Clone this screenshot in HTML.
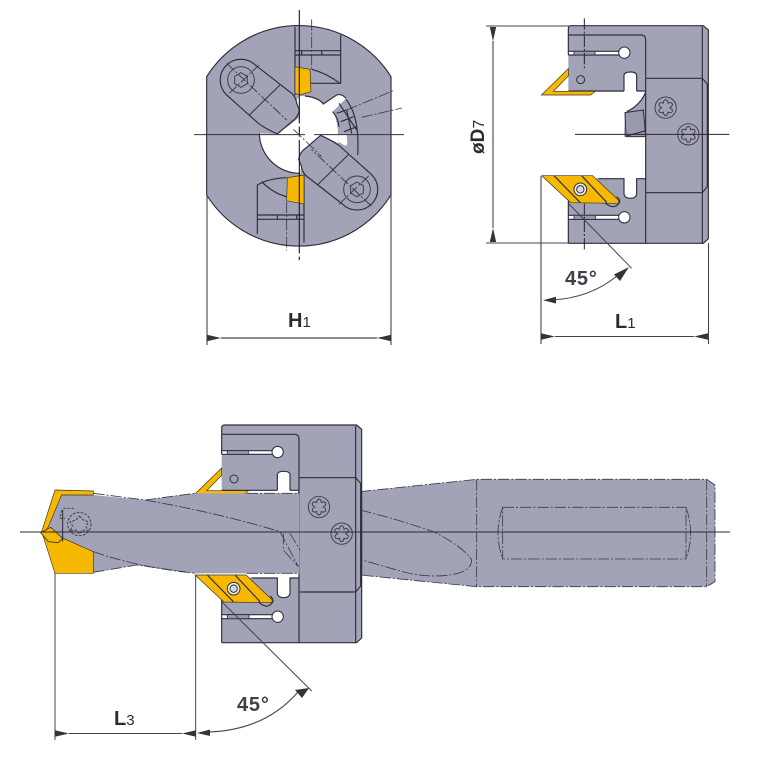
<!DOCTYPE html>
<html><head><meta charset="utf-8"><style>
html,body{margin:0;padding:0;background:#fff}
svg{display:block;filter:blur(.3px)}
text{font-family:"Liberation Sans",sans-serif;fill:#2b2b35}
.b{fill:#a3a3b7}
.l{fill:none;stroke:#2e2e3c;stroke-width:3.5;stroke-linejoin:round}
.t{fill:none;stroke:#3a3a48;stroke-width:2.8;stroke-linejoin:round}
.dd{fill:none;stroke:#3a3a48;stroke-width:2.5;stroke-dasharray:34 6 6 6}
.y{fill:#f6b800;stroke:#3a3320;stroke-width:2}
.d{fill:none;stroke:#44444c;stroke-width:1.1}
.w{fill:#fff}
</style></head><body>
<svg xmlns="http://www.w3.org/2000/svg" width="767" height="767" viewBox="0 0 767 767">
<defs>
<marker id="a" viewBox="0 0 14 8" refX="0" refY="4" markerWidth="14" markerHeight="8" markerUnits="userSpaceOnUse" orient="auto-start-reverse"><path d="M0 4L14 0.8V7.2Z" fill="#33333d"/></marker>
<g id="torx"><circle r="32" class="t"/><path d="M0 -24Q7 -22 7 -13Q14 -18 20 -12Q22 -5 12 0Q22 5 20 12Q14 18 7 13Q7 22 0 24Q-7 22 -7 13Q-14 18 -20 12Q-22 5 -12 0Q-22 -5 -20 -12Q-14 -18 -7 -13Q-7 -22 0 -24Z" class="t"/></g>
<g id="head">
 <path class="b" d="M527 47H700L715 60V686L700 700H527Z"/>
 <path class="b" d="M295 56Q295 47 304 47H528V245H295ZM295 505H528V700H295Z"/>
 <path class="b" d="M527 243Q510 285 465 308L462 380H527Z"/>
 <path class="w" d="M462 246V195Q464 186 481 186Q498 186 500 195V243H527Q515 285 465 308V246Z"/>
 <path class="w" d="M462 504V552Q464 565 481 565Q498 565 500 552V504Z"/>
 <path class="l" d="M462 243H296M500 243H527M462 243V195Q464 186 481 186Q498 186 500 195V243M385 506H462V552Q464 565 481 565Q498 565 500 552V506H527"/>
 <path d="M465 308L520 300L527 380L468 380Z" fill="#9a9aae" stroke="#2e2e3c" stroke-width="3"/>
 <path class="l" d="M527 246Q512 285 470 305M470 378L527 362"/>
 <rect x="290" y="124" width="160" height="11" class="w"/><circle cx="463" cy="128" r="17" class="w" stroke="#2e2e3c" stroke-width="3"/>
 <rect x="290" y="616" width="160" height="11" class="w"/><circle cx="463" cy="622" r="17" class="w" stroke="#2e2e3c" stroke-width="3"/>
 <path class="l" d="M295 124H447M295 135H447M295 616H447M295 628H447"/>
 <rect x="312" y="124" width="63" height="11" fill="#9a9aae" stroke="#2e2e3c" stroke-width="2.5"/>
 <rect x="312" y="616" width="65" height="12" fill="#9a9aae" stroke="#2e2e3c" stroke-width="2.5"/>
 <path class="l" d="M295 75H515Q527 76 527 90V700M527 205H697L712 222V530L697 548H527M697 50V700M295 700H700L715 686V60L700 47H304Q295 47 295 56V135M295 505V700"/>
 <circle cx="332" cy="209" r="12" fill="none" stroke="#2e2e3c" stroke-width="3"/>
 <path class="y" d="M295 176L214 255H362L376 244H250L295 198Z"/>
 <path class="y" d="M215 497H368L445 570Q450 582 436 580L302 578Z"/>
 <path class="l" d="M252 497L330 577M335 497L410 577M405 578Q430 600 445 582Q455 572 440 560"/>
 <circle cx="331" cy="538" r="19" fill="#eee" stroke="#2e2e3c" stroke-width="3"/><circle cx="331" cy="538" r="11" fill="#d8d8de" stroke="#2e2e3c" stroke-width="3"/>
 <use href="#torx" x="587" y="293"/><use href="#torx" x="655" y="373"/>
</g>
<g id="clamp">
 <path class="b" d="M109 254A62 62 0 1 1 197 166L305 250Q318 262 320 280L328 300Q325 322 305 335L262 374L205 340Z"/>
 <path class="l" d="M109 254A62 62 0 1 1 197 166L305 250Q318 262 320 280L328 300Q325 322 305 335L262 372Q225 355 205 340Z"/>
 <circle cx="153" cy="210" r="40" class="t"/>
 <path class="t" d="M153 188L172 199V221L153 232L134 221V199Z"/>
 <path class="t" stroke-dasharray="30 6 6 6" d="M110 160L290 330M118 250L207 165"/>
 <path class="l" style="stroke-width:3" d="M178 315L270 225"/>
</g>
</defs>

<!-- FRONT VIEW -->
<g transform="translate(190,10) scale(.33333)">
 <path class="b" d="M50 200A326 326 0 0 1 603 200V555A326 326 0 0 1 50 555Z"/>
 <path class="l" d="M50 200A326 326 0 0 1 603 200V555A326 326 0 0 1 50 555Z"/>
 <path class="w" d="M330 258H355Q385 262 400 282L440 255Q455 250 468 265L428 305Q445 330 445 400L400 378Q370 385 345 420L330 490A122 122 0 0 1 208 370L258 372L300 345L330 320L320 270Z"/>
 <path class="l" d="M345 258Q385 262 400 282L440 255Q455 250 468 265M208 370A122 122 0 0 0 330 490"/>
 <path class="b" d="M468 268Q510 320 503 435L470 408Q448 385 447 350Q445 325 428 305Z"/>
 <path class="w" d="M445 375H470L472 400Q470 410 462 405L445 395Z"/>
 <path class="l" d="M468 268Q510 320 503 435M428 305Q445 325 447 350M447 280L500 360M440 310L470 300M452 335L490 320M462 365L500 350M470 300L485 370"/>
 <use href="#clamp"/>
 <use href="#clamp" transform="rotate(180 327 374)"/>
 <path class="l" d="M315 50V256M452 75V220H360M315 122H452M315 135H452M335 122V135M395 122V135M365 178Q410 190 450 220"/>
 <path class="y" d="M315 170L360 178L363 245L330 255L315 250Z"/>
 <path class="l" d="M342 495V698M202 525V672M202 525Q235 505 290 503M202 615H342M202 628H342M262 615V628M320 615V628M215 515Q250 550 290 560"/>
 <path class="y" d="M342 495L292 503L290 572L330 580L342 582Z"/>
 <path d="M12 374H345M372 374H642" stroke="#33333f" stroke-width="3"/>
 <path d="M328 0V750" stroke="#22222e" stroke-width="3.5" stroke-dasharray="340 10 30 10"/>
 <path class="dd" d="M365 28V180M290 575V722M470 300L615 240M515 322L636 294M310 358L395 440"/>
</g>
<path class="d" d="M207 195V345M391 195V345"/>
<path class="d" d="M221 338H377" marker-start="url(#a)" marker-end="url(#a)" style="stroke-width:1.2"/>
<text x="288" y="327" font-size="20" font-weight="700">H<tspan font-size="15" font-weight="400">1</tspan></text>

<!-- SIDE VIEW -->
<g transform="translate(470,10) scale(.33333)"><use href="#head"/>
 <path d="M315 373H778" stroke="#2a2a36" stroke-width="3"/>
 <path class="dd" style="stroke:#222230;stroke-width:3" d="M343 25V180M343 580V722"/>
 <path d="M297 582L485 775" stroke="#44444c" stroke-width="3" fill="none"/>
</g>
<path class="d" d="M486 26H570M486 243H570"/>
<path class="d" d="M493 41V228" marker-start="url(#a)" marker-end="url(#a)"/>
<path class="d" d="M541 176V344M708.5 243V344"/>
<path class="d" d="M555 336.5H694" marker-start="url(#a)" marker-end="url(#a)"/>
<path class="d" d="M552 300Q590 298 617 276"/>
<path d="M543 300.2L556 296.8V303.5Z M629 267L614 274.5L620 281Z" fill="#33333d"/>
<text x="565" y="285" font-size="20" font-weight="700" letter-spacing=".8" fill-opacity=".9">45°</text>
<text x="615" y="328" font-size="20" font-weight="700">L<tspan font-size="15" font-weight="400">1</tspan></text>
<text transform="translate(484,154) rotate(-90)" font-size="19" font-weight="700">øD<tspan font-size="16" font-weight="400">7</tspan></text>

<!-- BOTTOM VIEW -->
<g transform="translate(350,460) scale(.33333)">
 <path class="b" d="M30 95L380 58H1070L1095 75V365L1070 380H380L30 345Z"/>
 <path class="dd" d="M30 95L380 58H1070L1095 75V365L1070 380H380L30 345"/>
 <path class="dd" d="M30 150Q150 180 250 215Q340 260 365 300Q365 335 300 345Q220 355 140 330L30 298"/>
 <path class="dd" d="M380 58V380M1070 58V380"/>
 <path class="dd" d="M458 142H1008V297H458ZM458 142Q430 220 458 297M1008 142Q1036 220 1008 297"/>
</g>
<g transform="translate(20,410) scale(.33333)">
 <g transform="translate(310,-2)"><use href="#head"/></g>
 <path class="b" d="M125 255H220L375 270L525 250H838V490H525L350 465L220 487H130L80 365Z"/>
 <path class="dd" d="M220 250L375 270L525 250M680 250H835M220 487L350 465L525 490M680 490H835"/>
 <path class="dd" d="M375 270Q600 310 780 365L835 470M220 425Q350 470 500 487M790 370V420L835 470M810 370L840 420"/>
 <path class="y" d="M105 240L65 365L105 490H220V425L130 385L90 355L75 365L85 350L125 255L220 255V243Z"/>
 <path d="M62 368L92 352L128 385L115 398L85 395Z" fill="#f6b800" stroke="#3a3320" stroke-width="2.5"/>
 <circle cx="178" cy="342" r="35" class="t" stroke-dasharray="8 4"/>
 <path class="t" stroke-dasharray="8 4" d="M178 318L190 330L205 335L198 350L205 362L188 360L178 372L168 360L150 362L158 348L150 335L168 330Z M130 295H165M125 300L120 325L135 325"/>
 <path d="M128 300V395" stroke="#2a2a36" stroke-width="3"/>
 <path d="M605 575L875 843" stroke="#44444c" stroke-width="3" fill="none"/>
 <path d="M105 490V990M527 495V990" stroke="#44444c" stroke-width="3"/>
</g>
<path d="M20 532H730" stroke="#2a2a36" stroke-width="1.1"/>
<path class="d" d="M69 733.5H182" marker-start="url(#a)" marker-end="url(#a)"/>
<path class="d" d="M209 732Q265 730 298 692"/>
<path d="M197 733L210 729.5V736Z M309 688L295 690L302 698Z" fill="#33333d"/>
<text x="114" y="725" font-size="20" font-weight="700">L<tspan font-size="15" font-weight="400">3</tspan></text>
<text x="237" y="711" font-size="20" font-weight="700" letter-spacing=".8" fill-opacity=".9">45°</text>
</svg>
</body></html>
